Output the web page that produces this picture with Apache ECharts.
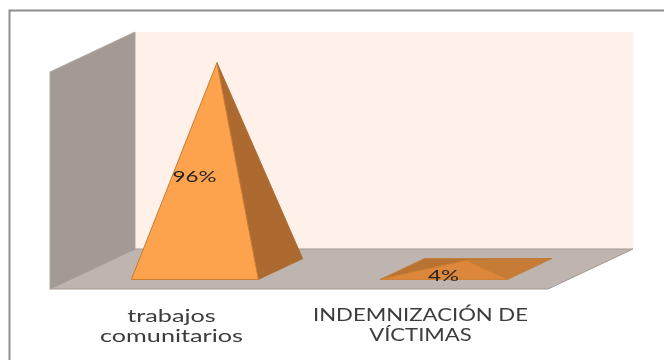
<!DOCTYPE html>
<html>
<head>
<meta charset="utf-8">
<style>
html,body{margin:0;padding:0;background:#fff}
#c{width:664px;height:360px;filter:blur(0.6px)}
</style>
<script src="https://cdn.jsdelivr.net/npm/echarts@6/dist/echarts.min.js"></script>
</head>
<body>
<div id="c"></div>
<script>
var categories = ['trabajos\ncomunitarios', 'INDEMNIZACIÓN DE\nVÍCTIMAS'];
var values = [0.96, 0.04];
var valueLabels = ['96%', '4%'];

var depthX = 85, depthY = -40;           // oblique offset of the floor depth
var chart = echarts.init(document.getElementById('c'), null, {renderer: 'canvas'});

function poly(points, fill, stroke, z) {
  return {type: 'polygon', z2: z || 0, shape: {points: points},
    style: {fill: fill, stroke: stroke || null, lineWidth: stroke ? 1 : 0}};
}

function renderWalls(params, api) {
  var g = params.coordSys;
  var L = g.x, R = g.x + g.width, T = g.y, B = g.y + g.height;
  return {type: 'group', children: [
    poly([[L + depthX, T + depthY], [R + depthX, T + depthY], [R + depthX, B + depthY], [L + depthX, B + depthY]], '#fff0ea'),
    poly([[L, T], [L + depthX, T + depthY], [L + depthX, B + depthY], [L, B]], '#a39a95', '#b0a8a4'),
    poly([[L, B], [L + depthX, B + depthY], [R + depthX, B + depthY], [R, B]], '#beb4b0', '#a09894')
  ]};
}

function renderPyramid(params, api) {
  var i = api.value(0), v = api.value(1);
  var base = api.coord([i, 0]), top = api.coord([i, v]);
  var band = api.size([1, 0])[0];
  var hw = band * 0.255;
  var y0 = base[1], h = y0 - top[1];
  var dx = depthX, dy = depthY;
  var fl = [base[0] - hw + dx * .24, y0 + dy * .24], fr = [base[0] + hw + dx * .24, y0 + dy * .24];
  var bl = [base[0] - hw + dx * .76, y0 + dy * .76], br = [base[0] + hw + dx * .76, y0 + dy * .76];
  var apex = [base[0] + dx * .5, y0 + dy * .5 - h];
  var tall = v > 0.5;
  var kids = [];
  if (!tall) {
    kids.push(poly([bl, br, apex, fl], '#b87332', '#c27c38'));
    kids.push(poly([br, apex, fr], '#c67c36', '#c27c38'));
    kids.push(poly([fl, apex, fr], '#dc873c', '#d0802e'));
  } else {
    kids.push(poly([fr, br, apex], '#ad6a30', '#ad6a30'));
    kids.push(poly([fl, fr, apex], '#fda34d', '#c97a30'));
  }
  var lx = base[0] + 20;
  var ly = tall ? (fl[1] + apex[1]) / 2 + 6 : y0 - 13;
  kids.push({type: 'text', z2: 5, x: lx, y: ly, scaleX: 1.4,
    style: {text: valueLabels[i], fill: '#222', font: '16px Lato', align: 'center', verticalAlign: 'middle'}});
  return {type: 'group', children: kids};
}

function renderCategory(params, api) {
  var i = api.value(0);
  var c = api.coord([i, 0]);
  var lower = i === 0;
  return {type: 'text', x: c[0] - 3, y: c[1] + 17, scaleX: lower ? 1.4 : 1.34,
    style: {text: categories[i], fill: '#3c3c3c', font: (lower ? 18 : 16.5) + 'px Lato', lineHeight: 20, align: 'center', verticalAlign: 'top'}};
}

chart.setOption({
  animation: false,
  backgroundColor: '#ffffff',
  graphic: [{type: 'polyline', silent: true, shape: {points: [[9.5, 362], [9.5, 10.5], [666, 10.5]]},
    style: {stroke: '#8e8e8e', lineWidth: 2, fill: null}}],
  grid: {left: 50, right: 116, top: 72, bottom: 71},
  xAxis: {type: 'category', data: categories, axisLine: {show: false}, axisTick: {show: false}, axisLabel: {show: false}},
  yAxis: {type: 'value', min: 0, max: 1.01, show: false, splitLine: {show: false}},
  series: [
    {type: 'custom', renderItem: renderWalls, data: [[0]], encode: {x: 0}, silent: true, clip: false, z: 1},
    {type: 'custom', renderItem: renderPyramid, data: values.map(function (v, i) { return [i, v]; }), encode: {x: 0, y: 1}, silent: true, clip: false, z: 2},
    {type: 'custom', renderItem: renderCategory, data: values.map(function (v, i) { return [i, 0]; }), encode: {x: 0, y: 1}, silent: true, clip: false, z: 3}
  ]
});
</script>
</body>
</html>
